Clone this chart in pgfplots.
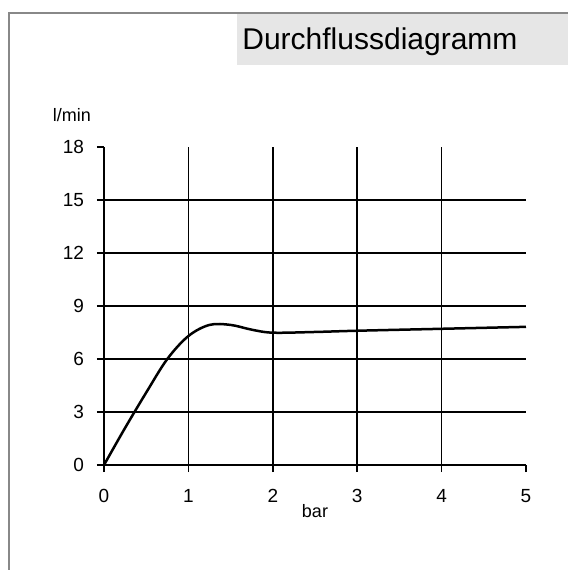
\documentclass[border=0pt]{standalone}
\usepackage{fontspec}
\setmainfont{Liberation Sans}
\usepackage{pgfplots}
\pgfplotsset{compat=1.18}
\definecolor{titlebg}{HTML}{E6E6E6}
\definecolor{framegray}{HTML}{888888}
\begin{document}
\begin{tikzpicture}[x=0.5pt,y=0.5pt]
\path[use as bounding box] (0,0) rectangle (568,570);
\fill[titlebg] (237,557) rectangle (568,505);
\draw[framegray,line width=1pt] (9,0) -- (9,557) -- (568,557);
\node[anchor=base west,font=\fontsize{15}{17}\selectfont,inner sep=0pt] at (242,521) {Durchflussdiagramm};
\node[font=\fontsize{9}{11}\selectfont] at (72,455) {l/min};
\node[font=\fontsize{9}{11}\selectfont] at (315,59) {bar};
\begin{axis}[
  at={(104pt*0.5,105pt*0.5)}, anchor=origin,
  scale only axis, width=211pt, height=159pt,
  xmin=0, xmax=5, ymin=0, ymax=18,
  axis lines=left, axis line style={-, line width=0.75pt},
  xtick={0,1,2,3,4,5}, ytick={0,3,6,9,12,15,18},
  tick align=outside, major tick length=3.5pt,
  tick style={line width=0.75pt, black},
  extra x ticks={1,2,3,4}, extra y ticks={3,6,9,12,15},
  extra tick style={grid=major, major tick length=0pt},
  extra x tick labels={}, extra y tick labels={},
  major grid style={line width=0.75pt, black},
  ticklabel style={font=\fontsize{9.5}{11}\selectfont},
  /pgf/number format/assume math mode=true,
  xticklabel style={yshift=-5pt},
  yticklabel style={xshift=-3pt},
  clip=false,
]
\addplot[line width=1.25pt, black, smooth, tension=0.55] coordinates {
(0,0) (0.25,2.1) (0.5,4.1) (0.75,6.0) (1,7.3) (1.25,7.93) (1.5,7.93) (1.75,7.66) (2,7.49) (2.5,7.53) (3,7.6) (4,7.71) (5,7.82)
};
\end{axis}
\end{tikzpicture}
\end{document}
